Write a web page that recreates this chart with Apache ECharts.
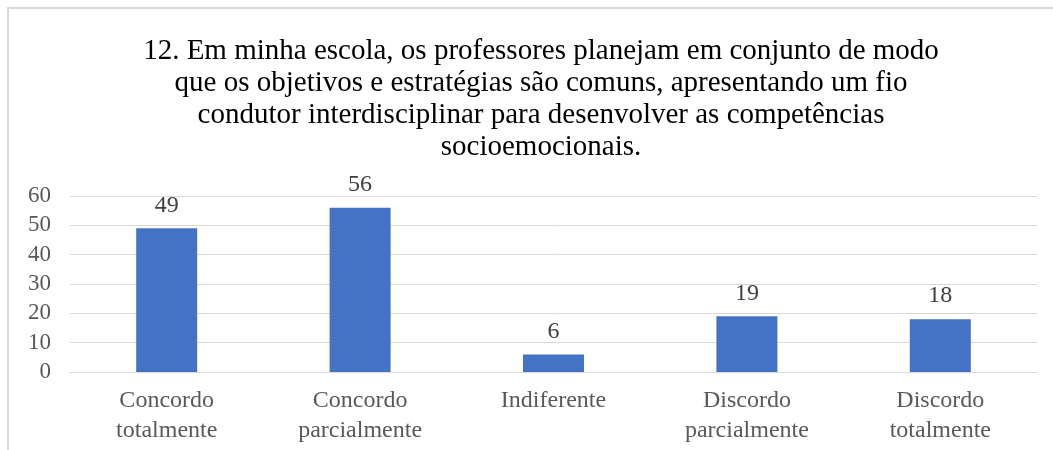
<!DOCTYPE html>
<html>
<head>
<meta charset="utf-8">
<script src="https://cdn.jsdelivr.net/npm/echarts@6/dist/echarts.min.js"></script>
<style>
  html, body { margin: 0; padding: 0; background: #fff; }
  #chart { width: 1053px; height: 450px; }
</style>
</head>
<body>
<div id="chart"></div>
<script>
var titleText = '12. Em minha escola, os professores planejam em conjunto de modo\n' +
  'que os objetivos e estratégias são comuns, apresentando um fio\n' +
  'condutor interdisciplinar para desenvolver as competências\n' +
  'socioemocionais.';
var categories = ['Concordo\ntotalmente', 'Concordo\nparcialmente', 'Indiferente',
  'Discordo\nparcialmente', 'Discordo\ntotalmente'];
var values = [49, 56, 6, 19, 18];
var yTicks = { min: 0, max: 60, interval: 10 };

var serif = 'Liberation Serif';
var chart = echarts.init(document.getElementById('chart'));
chart.setOption({
  animation: false,
  graphic: [{
    type: 'rect',
    shape: { x: 8, y: 8, width: 1200, height: 600 },
    style: { fill: 'none', stroke: '#d9d9d9', lineWidth: 2 },
    silent: true
  }],
  title: {
    text: titleText,
    left: 536,
    top: 30,
    textAlign: 'center',
    textStyle: {
      fontFamily: serif,
      fontSize: 29,
      fontWeight: 'normal',
      lineHeight: 32,
      color: '#000'
    }
  },
  grid: { left: 70, right: 16, top: 196, bottom: 78 },
  xAxis: {
    type: 'category',
    data: categories,
    axisLine: { lineStyle: { color: '#d9d9d9', width: 1 } },
    axisTick: { show: false },
    axisLabel: {
      fontFamily: serif,
      fontSize: 24,
      lineHeight: 30,
      color: '#595959',
      margin: 14,
      interval: 0
    }
  },
  yAxis: {
    type: 'value',
    min: yTicks.min,
    max: yTicks.max,
    interval: yTicks.interval,
    axisLine: { show: false },
    axisTick: { show: false },
    splitLine: { lineStyle: { color: '#d9d9d9', width: 1 } },
    axisLabel: {
      fontFamily: serif,
      fontSize: 23,
      color: '#595959',
      margin: 19
    }
  },
  series: [{
    type: 'bar',
    data: values,
    barWidth: 61,
    itemStyle: { color: '#4472C4' },
    label: {
      show: true,
      position: 'top',
      distance: 11,
      fontFamily: serif,
      fontSize: 24,
      color: '#404040'
    }
  }]
});
</script>
</body>
</html>
